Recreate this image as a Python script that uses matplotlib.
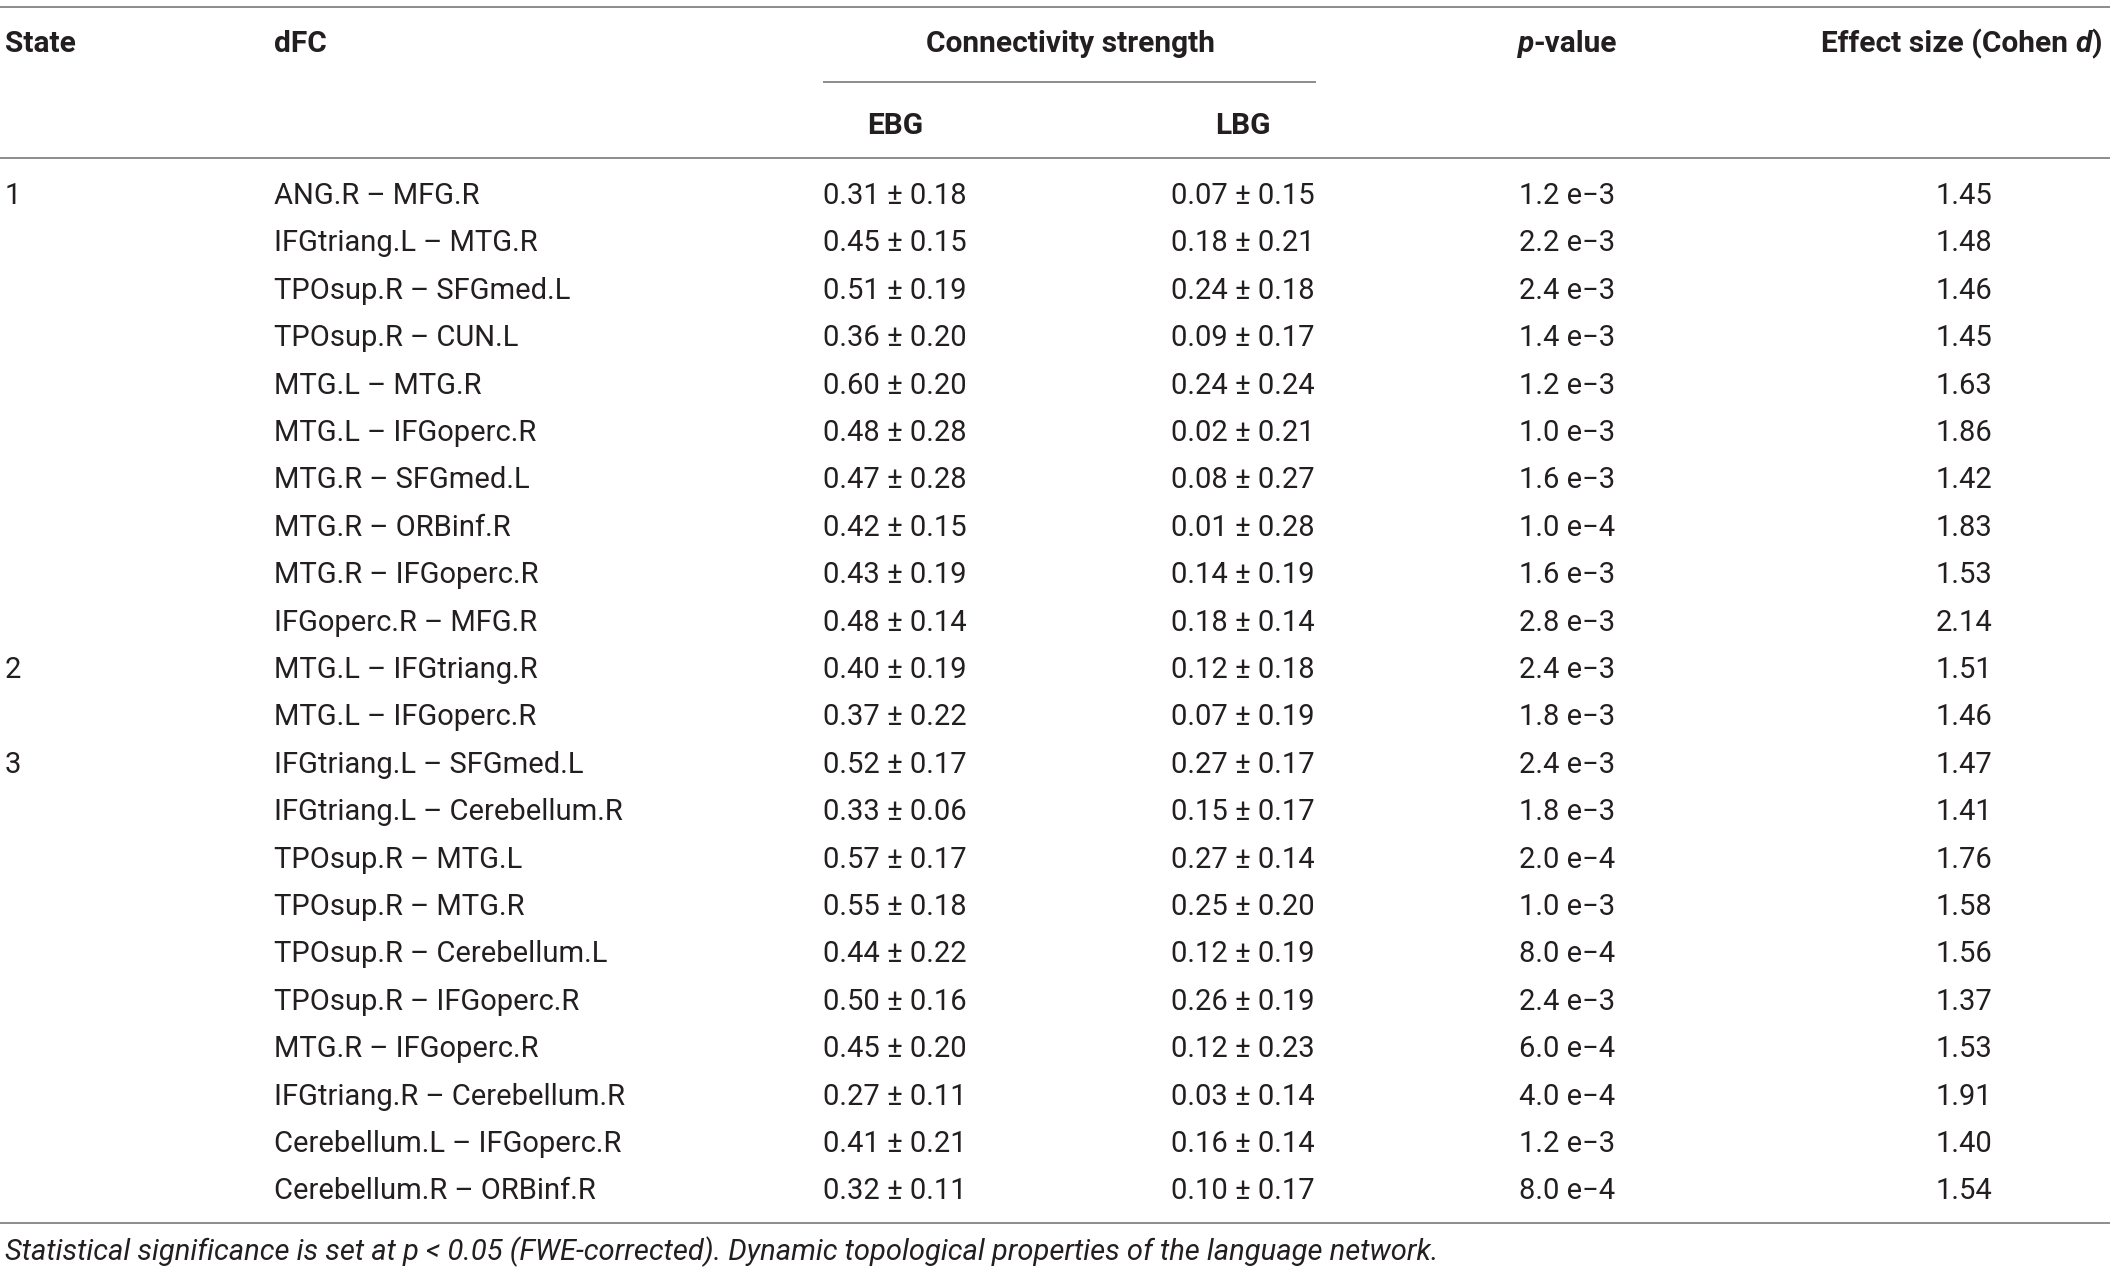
import matplotlib
matplotlib.use("Agg")
import matplotlib.pyplot as plt

plt.rcParams['font.family'] = ['Roboto', 'DejaVu Sans']

# table data
states = ['1', '', '', '', '', '', '', '', '', '', '2', '', '3', '', '', '', '', '', '', '', '', '']
dfc = [
    'ANG.R – MFG.R', 'IFGtriang.L – MTG.R', 'TPOsup.R – SFGmed.L', 'TPOsup.R – CUN.L',
    'MTG.L – MTG.R', 'MTG.L – IFGoperc.R', 'MTG.R – SFGmed.L', 'MTG.R – ORBinf.R',
    'MTG.R – IFGoperc.R', 'IFGoperc.R – MFG.R', 'MTG.L – IFGtriang.R', 'MTG.L – IFGoperc.R',
    'IFGtriang.L – SFGmed.L', 'IFGtriang.L – Cerebellum.R', 'TPOsup.R – MTG.L', 'TPOsup.R – MTG.R',
    'TPOsup.R – Cerebellum.L', 'TPOsup.R – IFGoperc.R', 'MTG.R – IFGoperc.R',
    'IFGtriang.R – Cerebellum.R', 'Cerebellum.L – IFGoperc.R', 'Cerebellum.R – ORBinf.R',
]
ebg_mean = [0.31, 0.45, 0.51, 0.36, 0.60, 0.48, 0.47, 0.42, 0.43, 0.48, 0.40, 0.37,
            0.52, 0.33, 0.57, 0.55, 0.44, 0.50, 0.45, 0.27, 0.41, 0.32]
ebg_sd = [0.18, 0.15, 0.19, 0.20, 0.20, 0.28, 0.28, 0.15, 0.19, 0.14, 0.19, 0.22,
          0.17, 0.06, 0.17, 0.18, 0.22, 0.16, 0.20, 0.11, 0.21, 0.11]
lbg_mean = [0.07, 0.18, 0.24, 0.09, 0.24, 0.02, 0.08, 0.01, 0.14, 0.18, 0.12, 0.07,
            0.27, 0.15, 0.27, 0.25, 0.12, 0.26, 0.12, 0.03, 0.16, 0.10]
lbg_sd = [0.15, 0.21, 0.18, 0.17, 0.24, 0.21, 0.27, 0.28, 0.19, 0.14, 0.18, 0.19,
          0.17, 0.17, 0.14, 0.20, 0.19, 0.19, 0.23, 0.14, 0.14, 0.17]
p_values = ['1.2 e−3', '2.2 e−3', '2.4 e−3', '1.4 e−3', '1.2 e−3', '1.0 e−3', '1.6 e−3',
            '1.0 e−4', '1.6 e−3', '2.8 e−3', '2.4 e−3', '1.8 e−3', '2.4 e−3', '1.8 e−3',
            '2.0 e−4', '1.0 e−3', '8.0 e−4', '2.4 e−3', '6.0 e−4', '4.0 e−4', '1.2 e−3',
            '8.0 e−4']
cohen_d = [1.45, 1.48, 1.46, 1.45, 1.63, 1.86, 1.42, 1.83, 1.53, 2.14, 1.51, 1.46,
           1.47, 1.41, 1.76, 1.58, 1.56, 1.37, 1.53, 1.91, 1.40, 1.54]
footnote = ('Statistical significance is set at p < 0.05 (FWE-corrected). '
            'Dynamic topological properties of the language network.')

W, H = 2117, 1272
fig = plt.figure(figsize=(W / 100, H / 100), dpi=100)
ax = fig.add_axes([0, 0, 1, 1])
ax.set_xlim(0, W)
ax.set_ylim(H, 0)
ax.axis('off')

txt = '#231f20'
rule = '#8c8c8c'
fs = 21
hfs = 21.5

# column positions (pixels)
x_state, x_dfc = 5, 274
x_ebg, x_lbg, x_p, x_d = 895, 1243, 1567, 1964
x_right = 2102

# rules
for y in (7, 158, 1223):
    ax.plot([0, 2110], [y, y], color=rule, lw=1.4, solid_capstyle='butt')
ax.plot([823, 1316], [82, 82], color=rule, lw=1.4, solid_capstyle='butt')

# header
hy1, hy2 = 44, 126
hkw = dict(fontsize=hfs, fontweight='bold', color=txt, va='center')
ax.text(x_state, hy1, 'State', ha='left', **hkw)
ax.text(x_dfc, hy1, 'dFC', ha='left', **hkw)
ax.text(1070, hy1, 'Connectivity strength', ha='center', **hkw)
ax.text(x_ebg, hy2, 'EBG', ha='center', **hkw)
ax.text(x_lbg, hy2, 'LBG', ha='center', **hkw)

# p-value header: italic p + "-value", centred on column
fig.canvas.draw()
r = fig.canvas.get_renderer()
tp = ax.text(0, hy1, 'p', ha='left', style='italic', **hkw)
tv = ax.text(0, hy1, '-value', ha='left', **hkw)
wp = tp.get_window_extent(r).width
wv = tv.get_window_extent(r).width
left = x_p - (wp + wv) / 2
tp.set_x(left)
tv.set_x(left + wp)

# Effect size header, right aligned, italic d
t1 = ax.text(x_right, hy1, ')', ha='right', **hkw)
w1 = t1.get_window_extent(r).width
t2 = ax.text(x_right - w1, hy1, 'd', ha='right', style='italic', **hkw)
w2 = t2.get_window_extent(r).width
ax.text(x_right - w1 - w2, hy1, 'Effect size (Cohen ', ha='right', **hkw)

# body rows
y0, dy = 196, 47.4
bkw = dict(fontsize=fs, color=txt, va='center')
for i in range(len(dfc)):
    y = y0 + i * dy
    if states[i]:
        ax.text(x_state, y, states[i], ha='left', **bkw)
    ax.text(x_dfc, y, dfc[i], ha='left', **bkw)
    ax.text(x_ebg, y, f'{ebg_mean[i]:.2f} ± {ebg_sd[i]:.2f}', ha='center', **bkw)
    ax.text(x_lbg, y, f'{lbg_mean[i]:.2f} ± {lbg_sd[i]:.2f}', ha='center', **bkw)
    ax.text(x_p, y, p_values[i], ha='center', **bkw)
    ax.text(x_d, y, f'{cohen_d[i]:.2f}', ha='center', **bkw)

ax.text(x_state, 1252, footnote, ha='left', va='center', fontsize=21,
        style='italic', color=txt)

fig.savefig('out.png', dpi=100)
